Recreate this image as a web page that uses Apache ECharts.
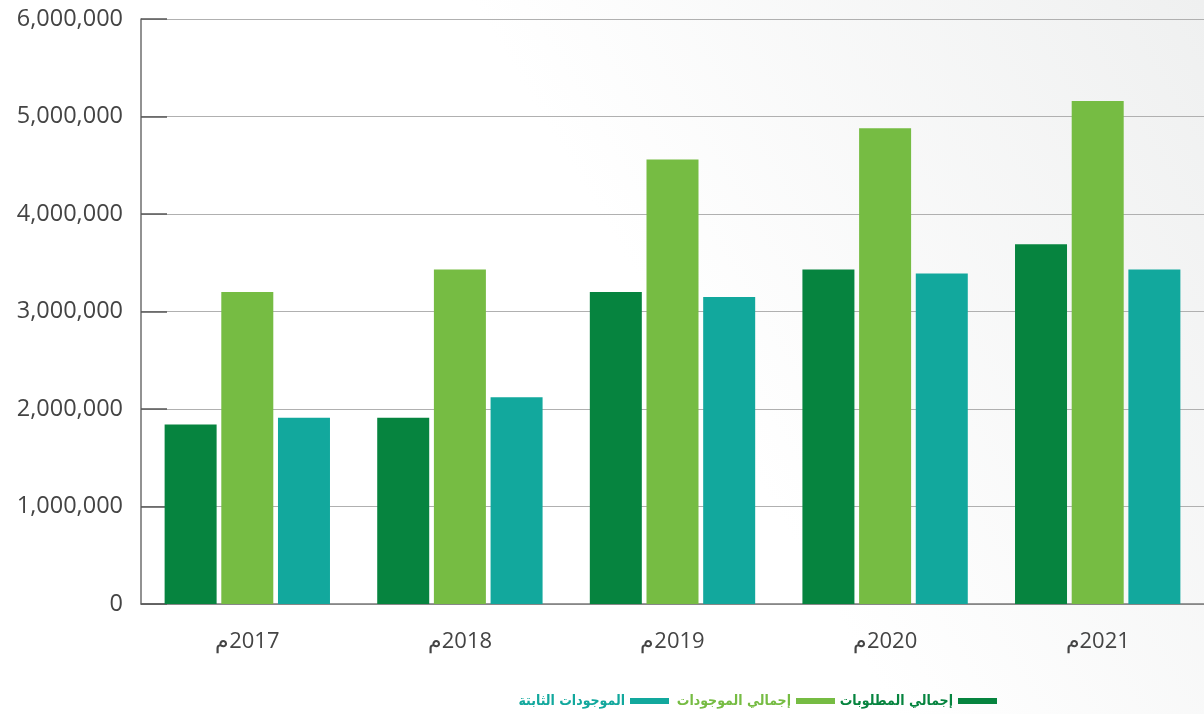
<!DOCTYPE html>
<html><head><meta charset="utf-8">
<script src="https://cdn.jsdelivr.net/npm/echarts@6/dist/echarts.min.js"></script>
<style>html,body{margin:0;padding:0;}#c{width:1204px;height:714px;}</style>
</head><body><div id="c"></div>
<script>
const years = ['2017', '2018', '2019', '2020', '2021'];
const yearSuffix = 'م';
const seriesNames = ['إجمالي المطلوبات', 'إجمالي الموجودات', 'الموجودات الثابتة'];
const totalLiabilities = [1840000, 1910000, 3200000, 3430000, 3690000];
const totalAssets = [3200000, 3430000, 4560000, 4880000, 5160000];
const fixedAssets = [1910000, 2120000, 3150000, 3390000, 3430000];
const yTicks = [0, 1000000, 2000000, 3000000, 4000000, 5000000, 6000000];
const colors = ['#06843F', '#76BC43', '#12A89D'];

const chart = echarts.init(document.getElementById('c'));
const mk = (i, data) => ({
  name: seriesNames[i], type: 'bar', data: data, barWidth: 52, barGap: '9%',
  itemStyle: { color: colors[i] }
});
const legendRights = [207, 369, 535];
const mkLegend = i => ({
  data: [{ name: seriesNames[i], textStyle: { color: colors[i] } }],
  right: legendRights[i], top: 694, padding: 0, align: 'right', icon: 'rect',
  itemWidth: 39, itemHeight: 6,
  textStyle: { fontSize: 14, fontWeight: 'bold', fontFamily: 'DejaVu Sans Condensed' },
  selectedMode: false
});
chart.setOption({
  backgroundColor: new echarts.graphic.LinearGradient(0, 1, 1, 0, [
    { offset: 0, color: '#ffffff' }, { offset: 0.55, color: '#ffffff' }, { offset: 1, color: '#eff0f0' }
  ]),
  animation: false,
  grid: { left: 141, top: 19, width: 1064, bottom: 110 },
  legend: [mkLegend(0), mkLegend(1), mkLegend(2)],
  xAxis: {
    type: 'category', data: years,
    axisLine: { lineStyle: { color: '#7a7a7a', width: 1.5 } },
    axisTick: { inside: true, length: 15, lineStyle: { color: '#8a8a8a', width: 1.5 } },
    axisLabel: { margin: 27, fontSize: 22, color: '#444', fontFamily: 'Open Sans',
      formatter: v => yearSuffix + '\u200E' + v }
  },
  yAxis: {
    type: 'value', min: yTicks[0], max: yTicks[yTicks.length - 1], interval: 1000000,
    axisLine: { show: true, lineStyle: { color: '#6e6e6e', width: 1.5 } },
    axisTick: { show: true, inside: true, length: 26, lineStyle: { color: '#555', width: 1.5 } },
    splitLine: { lineStyle: { color: '#b0b0b0', width: 1.2 } },
    axisLabel: { margin: 18, fontSize: 23.5, color: '#444', fontFamily: 'Open Sans',
      formatter: v => v.toLocaleString('en-US') }
  },
  series: [mk(0, totalLiabilities), mk(1, totalAssets), mk(2, fixedAssets)]
});
</script></body></html>
